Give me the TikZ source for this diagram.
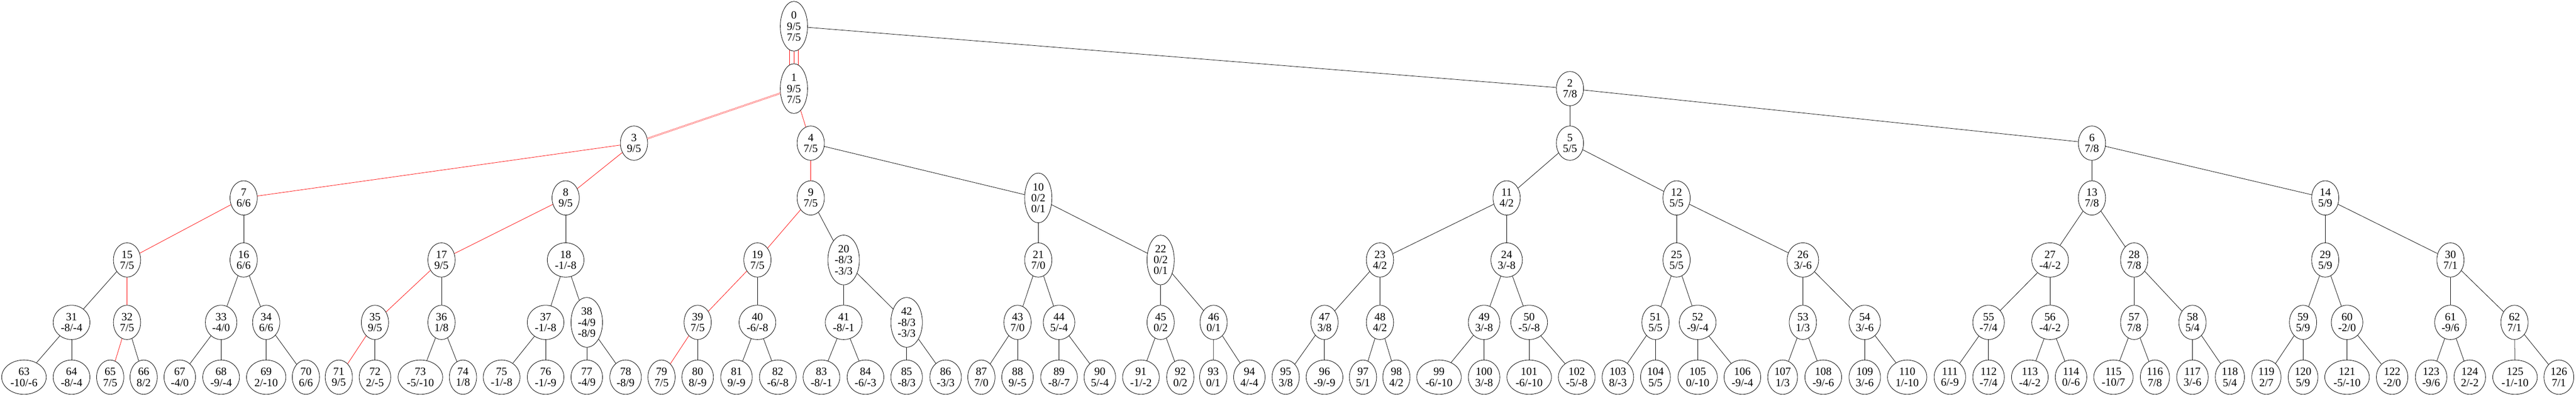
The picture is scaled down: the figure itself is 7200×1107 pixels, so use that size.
\documentclass[tikz,border=0pt]{standalone}
\usepackage{fontspec}
\setmainfont{Liberation Serif}
\usetikzlibrary{shapes.geometric}
\tikzset{
  nd/.style={ellipse, draw, line width=0.012cm, fill=white, inner xsep=0.062cm, inner ysep=0pt,
    minimum width=0.76cm, minimum height=0.96cm, align=center,
    font=\fontsize{8.8pt}{8.65pt}\selectfont},
  nd3/.style={nd, minimum height=1.39cm},
  ed/.style={line width=0.011cm, black},
  pv/.style={line width=0.011cm, red},
}
\begin{document}
\begin{tikzpicture}[x=0.01cm, y=-0.01cm]
\fill[white] (0,0) rectangle (7200,1107);
\useasboundingbox (0,0) rectangle (7200,1107);
% level 0
\node[nd3] (n0) at (2219,73.4) {0\\9/5\\7/5};
% level 1
\node[nd3] (n1) at (2219,247.8) {1\\9/5\\7/5};
\node[nd] (n2) at (4388,247.8) {2\\7/8};
% level 2
\node[nd] (n3) at (1772,400.3) {3\\9/5};
\node[nd] (n4) at (2266,400.3) {4\\7/5};
\node[nd] (n5) at (4388,400.3) {5\\5/5};
\node[nd] (n6) at (5847,400.3) {6\\7/8};
% level 3
\node[nd] (n7) at (681,553.5) {7\\6/6};
\node[nd] (n8) at (1581,553.5) {8\\9/5};
\node[nd] (n9) at (2266,553.5) {9\\7/5};
\node[nd3] (n10) at (2902,553.5) {10\\0/2\\0/1};
\node[nd] (n11) at (4211,553.5) {11\\4/2};
\node[nd] (n12) at (4686,553.5) {12\\5/5};
\node[nd] (n13) at (5847,553.5) {13\\7/8};
\node[nd] (n14) at (6499,553.5) {14\\5/9};
% level 4
\node[nd] (n15) at (355,727) {15\\7/5};
\node[nd] (n16) at (681,727) {16\\6/6};
\node[nd] (n17) at (1234,727) {17\\9/5};
\node[nd] (n18) at (1581,727) {18\\-1/-8};
\node[nd] (n19) at (2117,727) {19\\7/5};
\node[nd3] (n20) at (2358,727) {20\\-8/3\\-3/3};
\node[nd] (n21) at (2902,727) {21\\7/0};
\node[nd3] (n22) at (3244,727) {22\\0/2\\0/1};
\node[nd] (n23) at (3857,727) {23\\4/2};
\node[nd] (n24) at (4211,727) {24\\3/-8};
\node[nd] (n25) at (4686,727) {25\\5/5};
\node[nd] (n26) at (5039,727) {26\\3/-6};
\node[nd] (n27) at (5730,727) {27\\-4/-2};
\node[nd] (n28) at (5965,727) {28\\7/8};
\node[nd] (n29) at (6499,727) {29\\5/9};
\node[nd] (n30) at (6849,727) {30\\7/1};
% level 5
\node[nd] (n31) at (200,901.5) {31\\-8/-4};
\node[nd] (n32) at (355,901.5) {32\\7/5};
\node[nd] (n33) at (618,901.5) {33\\-4/0};
\node[nd] (n34) at (744,901.5) {34\\6/6};
\node[nd] (n35) at (1048,901.5) {35\\9/5};
\node[nd] (n36) at (1234,901.5) {36\\1/8};
\node[nd] (n37) at (1525,901.5) {37\\-1/-8};
\node[nd3] (n38) at (1640,901.5) {38\\-4/9\\-8/9};
\node[nd] (n39) at (1950,901.5) {39\\7/5};
\node[nd] (n40) at (2117,901.5) {40\\-6/-8};
\node[nd] (n41) at (2358,901.5) {41\\-8/-1};
\node[nd3] (n42) at (2534,901.5) {42\\-8/3\\-3/3};
\node[nd] (n43) at (2844,901.5) {43\\7/0};
\node[nd] (n44) at (2960,901.5) {44\\5/-4};
\node[nd] (n45) at (3244,901.5) {45\\0/2};
\node[nd] (n46) at (3392,901.5) {46\\0/1};
\node[nd] (n47) at (3702,901.5) {47\\3/8};
\node[nd] (n48) at (3857,901.5) {48\\4/2};
\node[nd] (n49) at (4148,901.5) {49\\3/-8};
\node[nd] (n50) at (4274,901.5) {50\\-5/-8};
\node[nd] (n51) at (4627,901.5) {51\\5/5};
\node[nd] (n52) at (4745,901.5) {52\\-9/-4};
\node[nd] (n53) at (5039,901.5) {53\\1/3};
\node[nd] (n54) at (5212,901.5) {54\\3/-6};
\node[nd] (n55) at (5558,901.5) {55\\-7/4};
\node[nd] (n56) at (5730,901.5) {56\\-4/-2};
\node[nd] (n57) at (5965,901.5) {57\\7/8};
\node[nd] (n58) at (6128,901.5) {58\\5/4};
\node[nd] (n59) at (6437,901.5) {59\\5/9};
\node[nd] (n60) at (6560,901.5) {60\\-2/0};
\node[nd] (n61) at (6849,901.5) {61\\-9/6};
\node[nd] (n62) at (7028,901.5) {62\\7/1};
% level 6
\node[nd] (n63) at (67,1054.7) {63\\-10/-6};
\node[nd] (n64) at (200,1054.7) {64\\-8/-4};
\node[nd] (n65) at (308,1054.7) {65\\7/5};
\node[nd] (n66) at (401.5,1054.7) {66\\8/2};
\node[nd] (n67) at (502.5,1054.7) {67\\-4/0};
\node[nd] (n68) at (618,1054.7) {68\\-9/-4};
\node[nd] (n69) at (744,1054.7) {69\\2/-10};
\node[nd] (n70) at (855,1054.7) {70\\6/6};
\node[nd] (n71) at (947,1054.7) {71\\9/5};
\node[nd] (n72) at (1048,1054.7) {72\\2/-5};
\node[nd] (n73) at (1175,1054.7) {73\\-5/-10};
\node[nd] (n74) at (1294,1054.7) {74\\1/8};
\node[nd] (n75) at (1402,1054.7) {75\\-1/-8};
\node[nd] (n76) at (1525,1054.7) {76\\-1/-9};
\node[nd] (n77) at (1640,1054.7) {77\\-4/9};
\node[nd] (n78) at (1748.5,1054.7) {78\\-8/9};
\node[nd] (n79) at (1849,1054.7) {79\\7/5};
\node[nd] (n80) at (1950,1054.7) {80\\8/-9};
\node[nd] (n81) at (2058.5,1054.7) {81\\9/-9};
\node[nd] (n82) at (2174,1054.7) {82\\-6/-8};
\node[nd] (n83) at (2296,1054.7) {83\\-8/-1};
\node[nd] (n84) at (2419,1054.7) {84\\-6/-3};
\node[nd] (n85) at (2534,1054.7) {85\\-8/3};
\node[nd] (n86) at (2643,1054.7) {86\\-3/3};
\node[nd] (n87) at (2743,1054.7) {87\\7/0};
\node[nd] (n88) at (2844,1054.7) {88\\9/-5};
\node[nd] (n89) at (2960,1054.7) {89\\-8/-7};
\node[nd] (n90) at (3074,1054.7) {90\\5/-4};
\node[nd] (n91) at (3189,1054.7) {91\\-1/-2};
\node[nd] (n92) at (3299,1054.7) {92\\0/2};
\node[nd] (n93) at (3391,1054.7) {93\\0/1};
\node[nd] (n94) at (3492,1054.7) {94\\4/-4};
\node[nd] (n95) at (3593.5,1054.7) {95\\3/8};
\node[nd] (n96) at (3702,1054.7) {96\\-9/-9};
\node[nd] (n97) at (3809.5,1054.7) {97\\5/1};
\node[nd] (n98) at (3903,1054.7) {98\\4/2};
\node[nd] (n99) at (4022,1054.7) {99\\-6/-10};
\node[nd] (n100) at (4148,1054.7) {100\\3/-8};
\node[nd] (n101) at (4274,1054.7) {101\\-6/-10};
\node[nd] (n102) at (4407,1054.7) {102\\-5/-8};
\node[nd] (n103) at (4522,1054.7) {103\\8/-3};
\node[nd] (n104) at (4627,1054.7) {104\\5/5};
\node[nd] (n105) at (4745,1054.7) {105\\0/-10};
\node[nd] (n106) at (4870,1054.7) {106\\-9/-4};
\node[nd] (n107) at (4982.5,1054.7) {107\\1/3};
\node[nd] (n108) at (5096,1054.7) {108\\-9/-6};
\node[nd] (n109) at (5212,1054.7) {109\\3/-6};
\node[nd] (n110) at (5330.5,1054.7) {110\\1/-10};
\node[nd] (n111) at (5450,1054.7) {111\\6/-9};
\node[nd] (n112) at (5558,1054.7) {112\\-7/4};
\node[nd] (n113) at (5673.5,1054.7) {113\\-4/-2};
\node[nd] (n114) at (5788.5,1054.7) {114\\0/-6};
\node[nd] (n115) at (5907,1054.7) {115\\-10/7};
\node[nd] (n116) at (6023,1054.7) {116\\7/8};
\node[nd] (n117) at (6128,1054.7) {117\\3/-6};
\node[nd] (n118) at (6232.5,1054.7) {118\\5/4};
\node[nd] (n119) at (6334.5,1054.7) {119\\2/7};
\node[nd] (n120) at (6437,1054.7) {120\\5/9};
\node[nd] (n121) at (6560,1054.7) {121\\-5/-10};
\node[nd] (n122) at (6686,1054.7) {122\\-2/0};
\node[nd] (n123) at (6795,1054.7) {123\\-9/6};
\node[nd] (n124) at (6903,1054.7) {124\\2/-2};
\node[nd] (n125) at (7029.5,1054.7) {125\\-1/-10};
\node[nd] (n126) at (7152,1054.7) {126\\7/1};
% black edges
\foreach \a/\b in {0/2,2/5,2/6,4/10,5/11,5/12,6/13,6/14,
  7/16,8/18,9/20,10/21,10/22,11/23,11/24,12/25,12/26,13/27,13/28,14/29,14/30,
  15/31,16/33,16/34,17/36,18/37,18/38,19/40,20/41,20/42,21/43,21/44,22/45,22/46,
  23/47,23/48,24/49,24/50,25/51,25/52,26/53,26/54,27/55,27/56,28/57,28/58,29/59,29/60,30/61,30/62,
  31/63,31/64,32/66,33/67,33/68,34/69,34/70,35/72,36/73,36/74,37/75,37/76,38/77,38/78,
  39/80,40/81,40/82,41/83,41/84,42/85,42/86,43/87,43/88,44/89,44/90,45/91,45/92,46/93,46/94,
  47/95,47/96,48/97,48/98,49/99,49/100,50/101,50/102,51/103,51/104,52/105,52/106,53/107,53/108,
  54/109,54/110,55/111,55/112,56/113,56/114,57/115,57/116,58/117,58/118,59/119,59/120,60/121,60/122,
  61/123,61/124,62/125,62/126}
  \draw[ed] (n\a) -- (n\b);
% red edges (principal variation)
\foreach \a/\b in {1/4,3/7,3/8,7/15,15/32,32/65,8/17,17/35,35/71,4/9,9/19,19/39,39/79}
  \draw[pv] (n\a) -- (n\b);
\draw[pv] (n0) -- (n1);
\draw[pv] ([xshift=-0.125cm,yshift=0.035cm]n0.south) -- ([xshift=-0.125cm,yshift=-0.035cm]n1.north);
\draw[pv] ([xshift=0.125cm,yshift=0.035cm]n0.south) -- ([xshift=0.125cm,yshift=-0.035cm]n1.north);
\draw[line width=0.008cm, red, double=white, double distance=0.02cm] (n1) -- (n3);
\end{tikzpicture}
\end{document}
